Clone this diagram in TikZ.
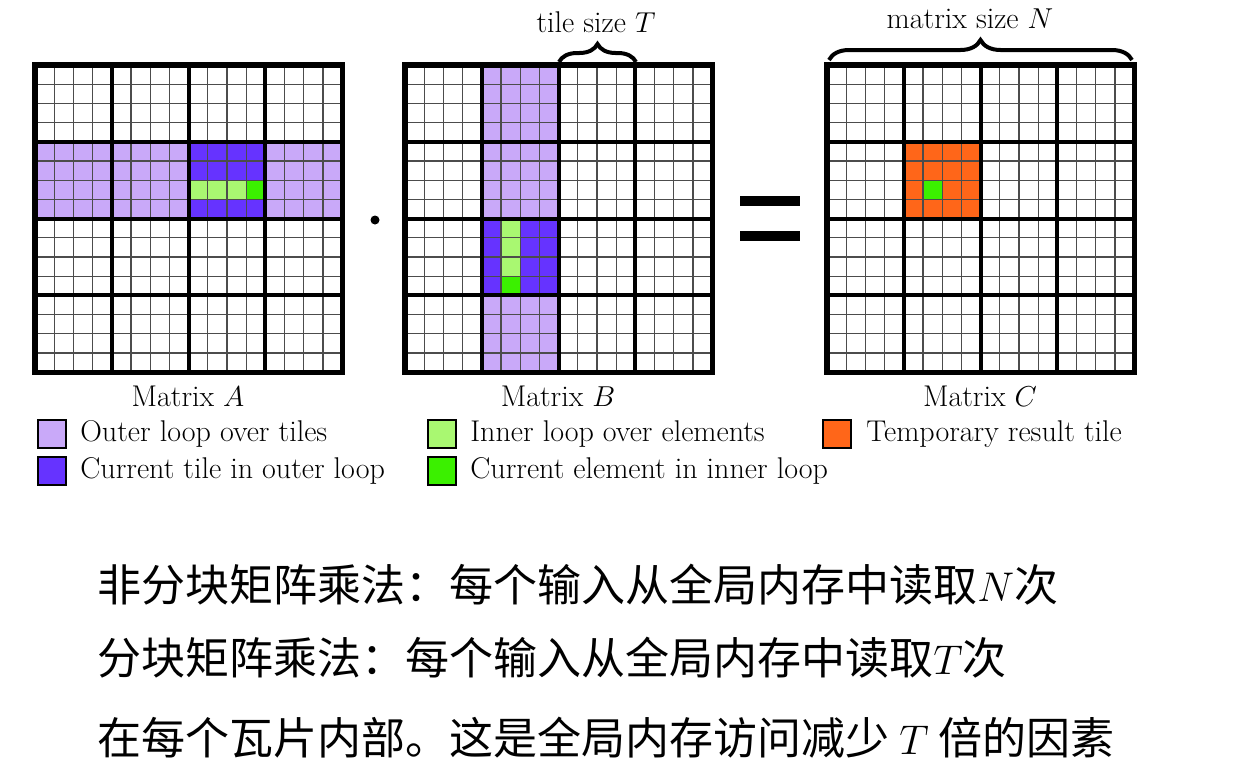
\documentclass[tikz,border=0pt]{standalone}
\usepackage{fontspec}
\newfontfamily\cjk{Noto Sans CJK SC}
\usetikzlibrary{decorations.pathreplacing}
\definecolor{lpur}{HTML}{C9A9F9}
\definecolor{dpur}{HTML}{6633FF}
\definecolor{lgrn}{HTML}{A9F871}
\definecolor{dgrn}{HTML}{3BF000}
\definecolor{orng}{HTML}{FF6619}
\tikzset{
 thin grid/.style={draw=black!70,line width=0.6pt},
 thick grid/.style={draw=black,line width=2pt},
 lbl/.style={font=\fontsize{15}{17}\selectfont,inner sep=0pt},
 leg/.style={font=\fontsize{15}{17}\selectfont,anchor=west,inner sep=0pt},
 sw/.style={draw=black,line width=1.2pt,minimum size=14pt,inner sep=0pt},
 cn/.style={font=\cjk\fontsize{22}{25}\selectfont,anchor=west,inner sep=0pt},
}
\newcommand{\cellfillx}[7]{\fill[#7] (#1+#3*19.2,#2+#4*19.2) rectangle ++(#5*19.2,#6*19.2);}
\newcommand{\gridx}[2]{
 \foreach \i in {1,...,15}{\draw[thin grid] (#1+\i*19.2,#2) -- ++(0,307.2);
   \draw[thin grid] (#1,#2+\i*19.2) -- ++(307.2,0);}
 \foreach \i in {1,2,3}{\draw[thick grid] (#1+\i*76.8,#2) -- ++(0,307.2);
   \draw[thick grid] (#1,#2+\i*76.8) -- ++(307.2,0);}
 \draw[line width=2.6pt] (#1,#2) rectangle ++(307.2,307.2);}
\begin{document}
\begin{tikzpicture}[x=0.5pt,y=-0.5pt]
\useasboundingbox (0,0) rectangle (1250,777);
% Matrix A
\cellfillx{35}{65}{0}{4}{16}{4}{lpur}
\cellfillx{35}{65}{8}{4}{4}{4}{dpur}
\cellfillx{35}{65}{8}{6}{3}{1}{lgrn}
\cellfillx{35}{65}{11}{6}{1}{1}{dgrn}
\gridx{35}{65}
% Matrix B
\cellfillx{405}{65}{4}{0}{4}{16}{lpur}
\cellfillx{405}{65}{4}{8}{4}{4}{dpur}
\cellfillx{405}{65}{5}{8}{1}{3}{lgrn}
\cellfillx{405}{65}{5}{11}{1}{1}{dgrn}
\gridx{405}{65}
% Matrix C
\cellfillx{827}{65}{4}{4}{4}{4}{orng}
\cellfillx{827}{65}{5}{6}{1}{1}{dgrn}
\gridx{827}{65}
% braces
\draw[line width=2pt,decorate,decoration={brace,amplitude=9pt}] (559,62) -- (636,62);
\node[lbl,anchor=base] (tT) at (596,32) {tile size $T$};
\draw[line width=2pt,decorate,decoration={brace,amplitude=10pt}] (829,60) -- (1132,60);
\node[lbl,anchor=base] (tN) at (970,28) {matrix size $N$};
% operators
\fill (375,220) circle (4.5);
\fill (740,196) rectangle (800,206);
\fill (740,231) rectangle (800,241);
% matrix labels
\node[lbl,anchor=base] (la) at (188,406) {Matrix $A$};
\node[lbl,anchor=base] (lb) at (558,406) {Matrix $B$};
\node[lbl,anchor=base] (lc) at (980,406) {Matrix $C$};
% legend
\node[sw,fill=lpur] (s1) at (52,434) {};
\node[leg] (t1) at (80,434) {Outer loop over tiles};
\node[sw,fill=dpur] (s2) at (52,471) {};
\node[leg] (t2) at (80,471) {Current tile in outer loop};
\node[sw,fill=lgrn] (s3) at (442,434) {};
\node[leg] (t3) at (470,434) {Inner loop over elements};
\node[sw,fill=dgrn] (s4) at (442,471) {};
\node[leg] (t4) at (470,471) {Current element in inner loop};
\node[sw,fill=orng] (s5) at (837,434) {};
\node[leg] (t5) at (866,434) {Temporary result tile};
% Chinese
\node[cn] (c1) at (97,585) {非分块矩阵乘法：每个输入从全局内存中读取$N$次};
\node[cn] (c2) at (97,658) {分块矩阵乘法：每个输入从全局内存中读取$T$次};
\node[cn] (c3) at (97,738) {在每个瓦片内部。这是全局内存访问减少 $T$ 倍的因素};
\end{tikzpicture}
\end{document}
